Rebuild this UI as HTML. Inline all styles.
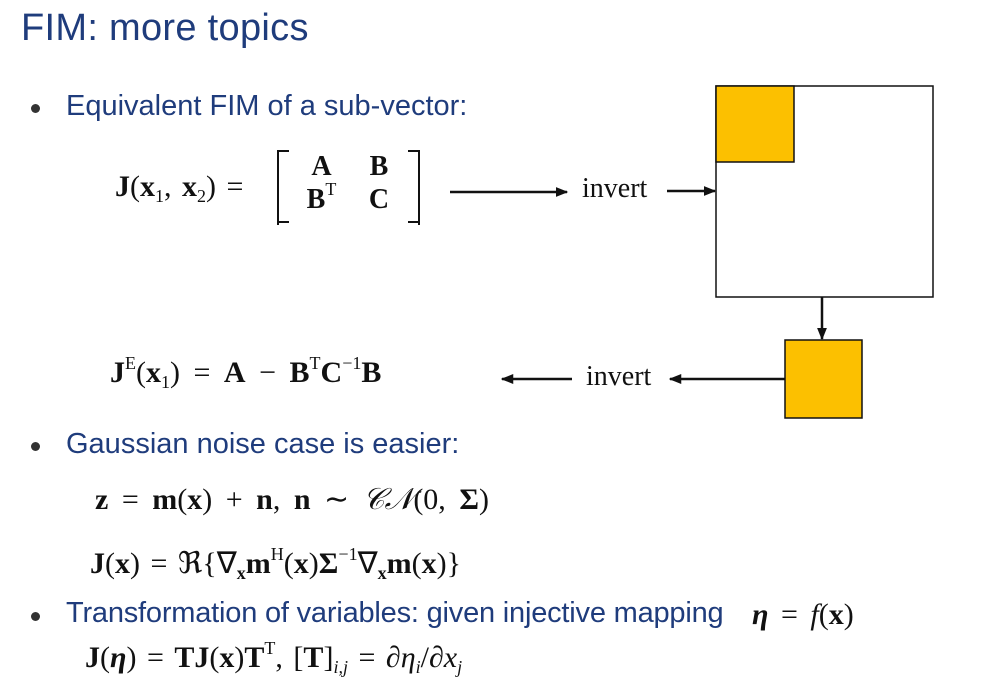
<!DOCTYPE html>
<html><head><meta charset="utf-8"><style>
body{margin:0;width:994px;height:699px;background:#fff;position:relative;overflow:hidden;font-family:"Liberation Sans",sans-serif}
.a{position:absolute;white-space:nowrap}
.t{color:#1f3c7c;font-size:29px}
.m{font-family:"Liberation Serif",serif;color:#111;font-size:30px;word-spacing:3px}
b{font-weight:bold}
sup{font-size:18px;vertical-align:13px;line-height:0}
sub{font-size:18px;vertical-align:-6px;line-height:0}
.dot{position:absolute;width:9px;height:9px;border-radius:50%;background:#333}
</style></head><body>
<div class="a" style="left:21px;top:7px;font-size:38px;color:#1f3c7c;letter-spacing:0.3px">FIM: more topics</div>

<div class="dot" style="left:31px;top:104px"></div>
<div class="a t" style="left:66px;top:90px">Equivalent FIM of a sub-vector:</div>

<div class="a m" style="left:115px;top:170px"><b>J</b>(<b>x</b><sub>1</sub>, <b>x</b><sub>2</sub>) =</div>
<div class="a" style="left:277px;top:150px;width:143px;height:75px;border:2px solid #111;border-top:none;border-bottom:none;box-sizing:border-box">
<div style="position:absolute;left:0;top:0;width:10px;height:73px;border-top:2px solid #111;border-bottom:2px solid #111;box-sizing:border-box"></div>
<div style="position:absolute;right:0;top:0;width:10px;height:73px;border-top:2px solid #111;border-bottom:2px solid #111;box-sizing:border-box"></div>
<div class="m" style="position:absolute;left:0;top:0;width:141px;line-height:33px;font-size:28px">
<span style="display:inline-block;width:85px;text-align:center"><b>A</b></span><span style="display:inline-block;width:30px;text-align:center"><b>B</b></span><br><span style="display:inline-block;width:85px;text-align:center"><b>B</b><sup>T</sup></span><span style="display:inline-block;width:30px;text-align:center"><b>C</b></span></div></div>

<svg class="a" style="left:0;top:0" width="994" height="699">
<defs><marker id="ah" viewBox="0 0 10 10" refX="9" refY="5" markerWidth="5" markerHeight="5" orient="auto"><path d="M0,1 L10,5 L0,9 z" fill="#111"/></marker></defs>
<line x1="450" y1="192" x2="567" y2="192" stroke="#111" stroke-width="2.5" marker-end="url(#ah)"/>
<line x1="667" y1="191" x2="715" y2="191" stroke="#111" stroke-width="2.5" marker-end="url(#ah)"/>
<rect x="716" y="86" width="217" height="211" fill="#fff" stroke="#111" stroke-width="1.5"/>
<rect x="716" y="86" width="78" height="76" fill="#fcc000" stroke="#111" stroke-width="1.5"/>
<line x1="822" y1="297" x2="822" y2="339" stroke="#111" stroke-width="2.5" marker-end="url(#ah)"/>
<rect x="785" y="340" width="77" height="78" fill="#fcc000" stroke="#111" stroke-width="1.5"/>
<line x1="785" y1="379" x2="670" y2="379" stroke="#111" stroke-width="2.5" marker-end="url(#ah)"/>
<line x1="572" y1="379" x2="502" y2="379" stroke="#111" stroke-width="2.5" marker-end="url(#ah)"/>
</svg>
<div class="a m" style="left:582px;top:173px;font-size:28px">invert</div>
<div class="a m" style="left:586px;top:361px;font-size:28px">invert</div>

<div class="a m" style="left:110px;top:356px;word-spacing:6px"><b>J</b><sup>E</sup>(<b>x</b><sub>1</sub>) = <b>A</b> − <b>B</b><sup>T</sup><b>C</b><sup>−1</sup><b>B</b></div>

<div class="dot" style="left:31px;top:442px"></div>
<div class="a t" style="left:66px;top:428px">Gaussian noise case is easier:</div>
<div class="a m" style="left:95px;top:482px;word-spacing:6px"><b>z</b> = <b>m</b>(<b>x</b>) + <b>n</b>, <b>n</b> ∼ <i>𝒞𝒩</i>(0, <b>Σ</b>)</div>
<div class="a m" style="left:90px;top:546px"><b>J</b>(<b>x</b>) = ℜ{∇<sub><b>x</b></sub><b>m</b><sup>H</sup>(<b>x</b>)<b>Σ</b><sup>−1</sup>∇<sub><b>x</b></sub><b>m</b>(<b>x</b>)}</div>

<div class="dot" style="left:31px;top:612px"></div>
<div class="a t" style="left:66px;top:597px;letter-spacing:-0.2px">Transformation of variables: given injective mapping</div>
<div class="a m" style="left:752px;top:598px;word-spacing:5px"><b><i>η</i></b> = <i>f</i>(<b>x</b>)</div>
<div class="a m" style="left:85px;top:641px"><b>J</b>(<b><i>η</i></b>) = <b>TJ</b>(<b>x</b>)<b>T</b><sup>T</sup>, [<b>T</b>]<sub><i>i,j</i></sub> = ∂<i>η<sub>i</sub></i>/∂<i>x<sub>j</sub></i></div>
</body></html>
